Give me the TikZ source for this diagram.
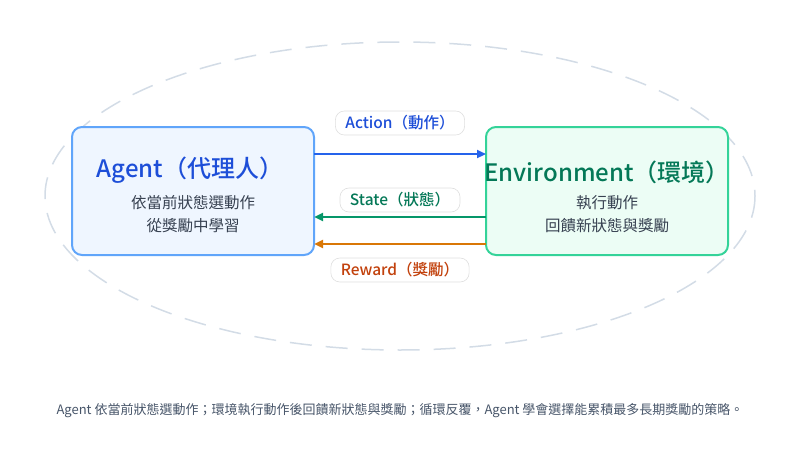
\documentclass[tikz,border=0pt]{standalone}
\usepackage{fontspec}
\setmainfont{Noto Sans CJK TC}
\newfontfamily\medfont{Noto Sans CJK TC Medium}
\usetikzlibrary{arrows.meta}
\definecolor{ell}{HTML}{D3DCE6}
\definecolor{ablue}{HTML}{1D4ED8}
\definecolor{abord}{HTML}{60A5FA}
\definecolor{afill}{HTML}{EFF6FF}
\definecolor{egreen}{HTML}{047857}
\definecolor{ebord}{HTML}{34D399}
\definecolor{efill}{HTML}{ECFDF5}
\definecolor{rorange}{HTML}{C2410C}
\definecolor{arrblue}{HTML}{2563EB}
\definecolor{arrgreen}{HTML}{059669}
\definecolor{arrorange}{HTML}{D97706}
\definecolor{subtxt}{HTML}{374151}
\definecolor{captxt}{HTML}{475569}
\begin{document}
\begin{tikzpicture}[x=1pt,y=-1pt,
  box/.style={draw, line width=2pt, rounded corners=10pt, minimum width=242pt, minimum height=128pt},
  pill/.style={draw=gray!25, fill=white, rounded corners=9pt, line width=0.6pt, minimum height=24pt, inner xsep=10pt, font=\fontsize{15.5}{18}\selectfont\medfont},
  conn/.style={line width=2.5pt, -{Triangle[length=9pt,width=8pt]}},
  sub/.style={font=\fontsize{15.5}{23}\selectfont, text=subtxt, align=center}]
\useasboundingbox (0,0) rectangle (800,460);
\draw[ell, line width=1.5pt, dash pattern=on 22pt off 14pt] (400,196) ellipse [x radius=355, y radius=154];
\node[box, draw=abord, fill=afill] (agent) at (193,191) {};
\node[box, draw=ebord, fill=efill] (env) at (607,191) {};
\node[text=ablue, font=\fontsize{24}{28}\selectfont\medfont] (at) at (190,170) {Agent（代理人）};
\node[sub] (as) at (193,214) {依當前狀態選動作\\從獎勵中學習};
\node[text=egreen, font=\fontsize{24}{28}\selectfont\medfont] (et) at (607,172) {Environment（環境）};
\node[sub] (es) at (607,214) {執行動作\\回饋新狀態與獎勵};
\coordinate (a1) at (314,154); \coordinate (e1) at (486,154);
\coordinate (a2) at (314,217); \coordinate (e2) at (486,217);
\coordinate (a3) at (314,244); \coordinate (e3) at (486,244);
\draw[conn, arrblue] (a1) -- (e1);
\draw[conn, arrgreen] (e2) -- (a2);
\draw[conn, arrorange] (e3) -- (a3);
\node[pill, text=ablue] (la) at (400,123) {Action（動作）};
\node[pill, text=egreen] (ls) at (400,200) {State（狀態）};
\node[pill, text=rorange] (lr) at (400,270) {Reward（獎勵）};
\node[text=captxt, font=\fontsize{13}{16}\selectfont] (cap) at (400,411) {Agent 依當前狀態選動作；環境執行動作後回饋新狀態與獎勵；循環反覆，Agent 學會選擇能累積最多長期獎勵的策略。};
\end{tikzpicture}
\end{document}
